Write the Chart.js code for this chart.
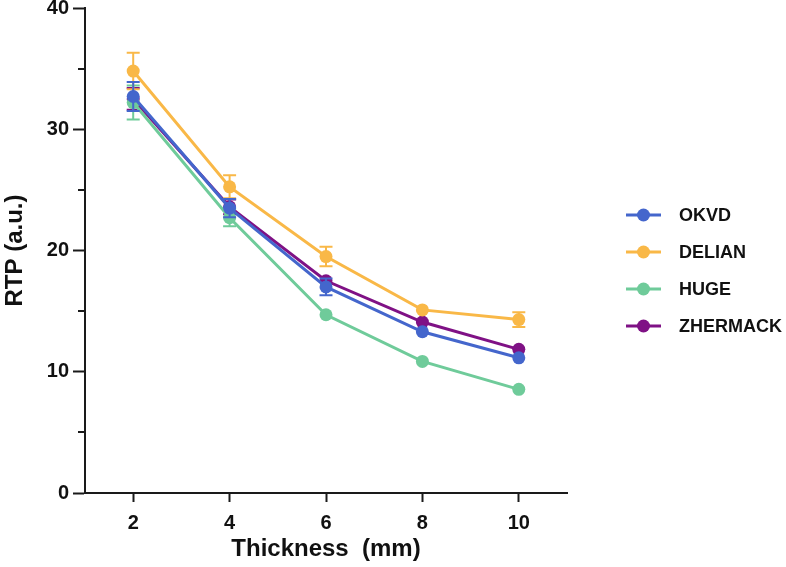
<!DOCTYPE html>
<html><head><meta charset="utf-8">
<script src="https://cdn.jsdelivr.net/npm/chart.js@4.4.0/dist/chart.umd.min.js"></script>
<style>html,body{margin:0;padding:0;background:#fff}#wrap{width:786px;height:567px;position:relative}</style>
</head><body><div id="wrap"><canvas id="c" width="786" height="567"></canvas></div>
<script>
const thickness = [2, 4, 6, 8, 10];
const seriesNames = ['OKVD', 'DELIAN', 'HUGE', 'ZHERMACK'];
const okvd = [32.7, 23.5, 17.0, 13.3, 11.15];
const delian = [34.8, 25.25, 19.5, 15.1, 14.3];
const huge = [32.2, 22.7, 14.7, 10.85, 8.55];
const zhermack = [32.5, 23.6, 17.5, 14.1, 11.85];
const okvdErr = [1.2, 0.75, 0.7, 0, 0];
const delianErr = [1.5, 0.95, 0.8, 0, 0.6];
const hugeErr = [1.4, 0.7, 0, 0, 0];
const zhermackErr = [0.9, 0.6, 0, 0, 0];
const xTicks = [2, 4, 6, 8, 10];
const yTicks = [0, 10, 20, 30, 40];
const yMinorTicks = [5, 15, 25, 35];

const colors = ['#4466CC', '#F9B847', '#6FCB9A', '#7F1185'];
const values = [okvd, delian, huge, zhermack];
const errs = [okvdErr, delianErr, hugeErr, zhermackErr];
const FONT = 'Liberation Sans, Arial, sans-serif';
const AX = '#1a1a1a';

const datasets = seriesNames.map((name, k) => ({
  label: name,
  data: thickness.map((t, i) => ({x: t, y: values[k][i]})),
  errors: errs[k],
  borderColor: colors[k],
  backgroundColor: colors[k],
  pointBackgroundColor: colors[k],
  pointBorderWidth: 0,
  pointRadius: 6.5,
  borderWidth: 3,
  tension: 0,
  clip: false
}));

const errorBars = {
  id: 'errorBars',
  beforeDatasetDraw(chart, args) {
    const ds = chart.data.datasets[args.index];
    const {ctx} = chart;
    const x = chart.scales.x, y = chart.scales.y;
    ctx.save();
    ctx.strokeStyle = ds.borderColor;
    ctx.lineWidth = 2;
    ds.errors.forEach((e, i) => {
      if (!(e > 0)) return;
      const p = ds.data[i];
      const px = x.getPixelForValue(p.x);
      const top = y.getPixelForValue(p.y + e);
      const bot = y.getPixelForValue(p.y - e);
      ctx.beginPath();
      ctx.moveTo(px, top); ctx.lineTo(px, bot);
      ctx.moveTo(px - 6.5, top); ctx.lineTo(px + 6.5, top);
      ctx.moveTo(px - 6.5, bot); ctx.lineTo(px + 6.5, bot);
      ctx.stroke();
    });
    ctx.restore();
  }
};

const minorTicks = {
  id: 'minorTicks',
  afterDraw(chart) {
    const {ctx} = chart;
    const y = chart.scales.y;
    ctx.save();
    ctx.strokeStyle = AX;
    ctx.lineWidth = 2;
    yMinorTicks.forEach(v => {
      const py = Math.round(y.getPixelForValue(v));
      ctx.beginPath();
      ctx.moveTo(y.right - 7, py);
      ctx.lineTo(y.right, py);
      ctx.stroke();
    });
    ctx.restore();
  }
};

const sideLegend = {
  id: 'sideLegend',
  afterDraw(chart) {
    const {ctx, chartArea} = chart;
    const gap = 37;
    const n = chart.data.datasets.length;
    const x0 = chartArea.right + 59;
    const yc = (chartArea.top + chartArea.bottom) / 2 + 20;
    const y0 = yc - gap * (n - 1) / 2;
    ctx.save();
    chart.data.datasets.forEach((ds, i) => {
      const yy = y0 + i * gap;
      ctx.strokeStyle = ds.borderColor;
      ctx.lineWidth = 3;
      ctx.beginPath();
      ctx.moveTo(x0, yy); ctx.lineTo(x0 + 35, yy);
      ctx.stroke();
      ctx.fillStyle = ds.borderColor;
      ctx.beginPath();
      ctx.arc(x0 + 17.5, yy, 6.5, 0, Math.PI * 2);
      ctx.fill();
      ctx.fillStyle = '#111';
      ctx.font = 'bold 18px ' + FONT;
      ctx.textAlign = 'left';
      ctx.textBaseline = 'middle';
      ctx.fillText(ds.label, x0 + 53, yy + 1);
    });
    ctx.restore();
  }
};

new Chart(document.getElementById('c'), {
  type: 'line',
  data: {datasets},
  plugins: [errorBars, minorTicks, sideLegend],
  options: {
    responsive: false,
    animation: false,
    devicePixelRatio: 1,
    layout: {padding: {top: 8, right: 219, bottom: 0, left: 0}},
    plugins: {legend: {display: false}, tooltip: {enabled: false}},
    scales: {
      x: {
        type: 'linear', min: 1, max: 11,
        afterBuildTicks: s => { s.ticks = xTicks.map(v => ({value: v})); },
        afterFit: s => { s.height = 74; s.paddingLeft = 0; s.paddingRight = 0; },
        border: {display: true, color: AX, width: 2},
        grid: {display: true, drawOnChartArea: false, drawTicks: true, tickLength: 9, tickWidth: 2, tickColor: AX},
        ticks: {color: '#111', font: {family: FONT, weight: 'bold', size: 20}, padding: 9, maxRotation: 0, autoSkip: false},
        title: {display: true, text: 'Thickness  (mm)', color: '#111', font: {family: FONT, weight: 'bold', size: 24}, padding: {top: 0, bottom: 3}}
      },
      y: {
        type: 'linear', min: 0, max: 40,
        afterBuildTicks: s => { s.ticks = yTicks.map(v => ({value: v})); },
        afterFit: s => { s.width = 85; s.paddingTop = 0; s.paddingBottom = 0; },
        border: {display: true, color: AX, width: 2},
        grid: {display: true, drawOnChartArea: false, drawTicks: true, tickLength: 12, tickWidth: 2, tickColor: AX},
        ticks: {color: '#111', font: {family: FONT, weight: 'bold', size: 20}, padding: 4, autoSkip: false},
        title: {display: true, text: 'RTP (a.u.)', color: '#111', font: {family: FONT, weight: 'bold', size: 24}, padding: {top: 1, bottom: 0}}
      }
    }
  }
});
</script>
</body></html>
